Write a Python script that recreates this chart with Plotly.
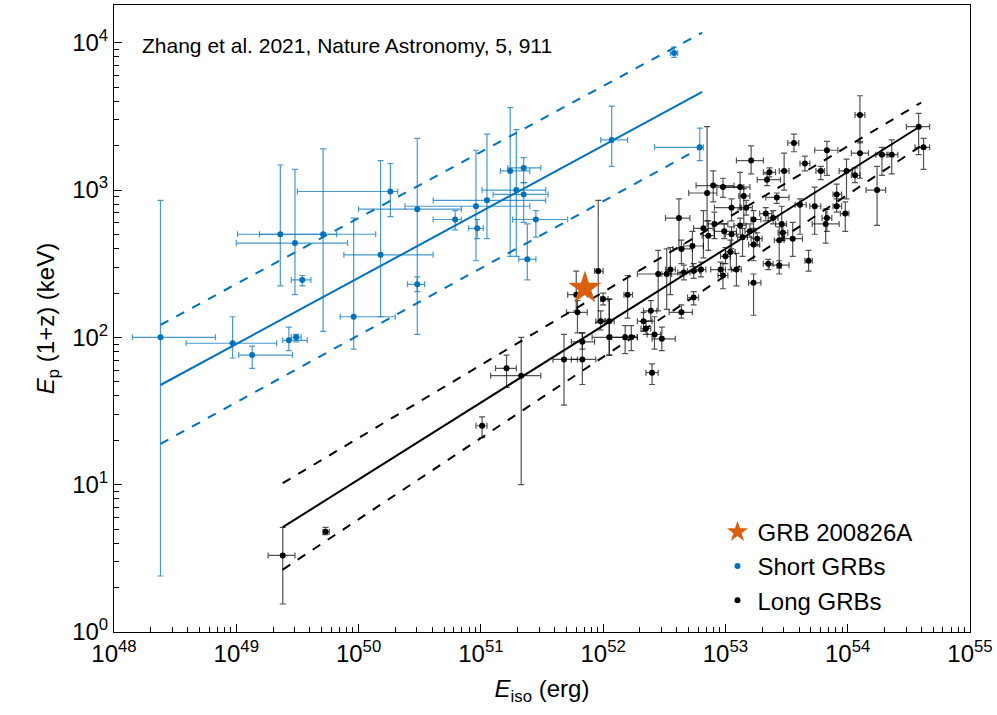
import numpy as np
import plotly.graph_objects as go

# ---------------- data (log10 values) ----------------
# Short GRBs: log10 Eiso (erg), log10 Ep(1+z) (keV), and error-bar bounds
short_logE    = [48.38, 48.97, 49.13, 49.43, 49.49, 49.96, 49.36, 49.48, 49.71, 49.54,
                 50.18, 50.26, 50.48, 50.48, 50.79, 50.96, 50.97, 51.05, 51.24, 51.29,
                 51.35, 51.35, 51.45, 51.38, 52.07, 52.58, 52.79]
short_logEp   = [2.00, 1.96, 1.88, 1.98, 2.00, 2.14, 2.70, 2.64, 2.70, 2.39,
                 2.56, 2.99, 2.87, 2.36, 2.80, 2.89, 2.74, 2.93, 3.13, 3.00,
                 3.15, 2.97, 2.80, 2.53, 3.34, 3.93, 3.29]
short_logE_lo = [48.15, 48.59, 49.02, 49.38, 49.45, 49.85, 49.01, 49.00, 49.19, 49.45,
                 49.88, 49.50, 50.00, 50.40, 50.61, 50.38, 50.90, 50.61, 51.16, 51.01,
                 51.22, 51.10, 51.26, 51.31, 51.98, 52.55, 52.42]
short_logE_hi = [48.83, 49.33, 49.46, 49.58, 49.53, 50.30, 49.82, 49.91, 50.14, 49.61,
                 50.61, 50.32, 50.84, 50.54, 50.84, 51.40, 51.02, 51.53, 51.40, 51.53,
                 51.49, 51.55, 51.71, 51.45, 52.20, 52.61, 52.82]
short_logEp_lo = [0.38, 1.86, 1.79, 1.91, 1.97, 1.92, 2.35, 2.29, 2.04, 2.35,
                  2.14, 2.82, 2.02, 2.31, 2.73, 2.52, 2.67, 2.67, 2.55, 2.55,
                  3.05, 2.78, 2.68, 2.39, 3.16, 3.90, 3.20]
short_logEp_hi = [2.93, 2.14, 1.94, 2.07, 2.02, 2.81, 3.17, 3.14, 3.28, 2.42,
                  3.20, 3.18, 3.35, 2.41, 2.86, 3.27, 2.80, 3.38, 3.56, 3.41,
                  3.22, 3.05, 2.86, 2.77, 3.57, 3.97, 3.42]

# Long GRBs
long_logE = [49.38, 49.73, 51.01, 51.21, 51.33, 51.68, 51.83, 51.83, 51.79, 51.78,
             51.96, 52.00, 51.98, 52.05, 52.20, 52.05, 52.18, 52.23, 52.42, 52.48,
             52.33, 52.39, 52.35, 52.40, 52.45, 52.52, 52.55, 52.64, 52.64, 52.73,
             52.66, 52.74, 52.80, 52.74, 53.56, 53.65, 53.21, 53.36, 53.34, 53.48,
             52.90, 52.85, 52.98, 53.12, 53.15, 52.62, 53.05, 53.17, 53.42, 52.91,
             52.99, 53.05, 53.12, 52.82, 52.86, 53.14, 53.20, 53.23, 53.26, 53.23,
             53.33, 53.39, 53.46, 53.47, 53.44, 53.55, 53.61, 53.35, 53.44, 53.23,
             53.00, 53.04, 52.96, 52.98, 53.09, 54.10, 53.83, 53.78, 54.10, 53.99,
             54.06, 54.28, 54.36, 54.58, 54.62, 54.24, 53.91, 53.91, 53.73, 53.83,
             53.82, 53.98, 53.68]
long_logEp = [0.52, 0.68, 1.40, 1.79, 1.74, 1.85, 1.85, 1.97, 2.17, 2.29,
              2.45, 2.26, 2.11, 2.11, 2.29, 2.00, 2.00, 2.00, 2.02, 1.99,
              2.11, 2.18, 2.06, 1.76, 2.43, 2.43, 2.46, 2.17, 2.60, 2.62,
              2.44, 2.45, 2.46, 2.27, 3.32, 3.18, 3.20, 3.12, 3.07, 3.13,
              3.03, 2.98, 3.02, 3.02, 2.96, 2.81, 2.88, 2.88, 2.95, 2.77,
              2.72, 2.70, 2.76, 2.74, 2.69, 2.68, 2.72, 2.80, 2.67, 2.63,
              2.84, 2.81, 2.77, 2.71, 2.66, 2.67, 2.90, 2.50, 2.49, 2.37,
              2.55, 2.58, 2.46, 2.42, 2.46, 3.51, 3.27, 3.13, 3.25, 3.13,
              3.10, 3.24, 3.24, 3.43, 3.29, 3.00, 2.97, 2.89, 2.89, 2.81,
              2.77, 2.84, 2.52]
long_logE_lo = [49.26, 49.71, 50.96, 51.12, 51.08, 51.59, 51.74, 51.74, 51.70, 51.71,
                51.93, 51.98, 51.94, 52.01, 52.17, 51.91, 52.07, 52.19, 52.36, 52.40,
                52.28, 52.33, 52.31, 52.35, 52.28, 52.48, 52.51, 52.54, 52.57, 52.66,
                52.61, 52.69, 52.76, 52.69, 53.51, 53.61, 53.09, 53.31, 53.26, 53.44,
                52.76, 52.70, 52.93, 52.98, 53.11, 52.51, 52.91, 53.12, 53.33, 52.85,
                52.91, 53.00, 53.07, 52.74, 52.81, 53.10, 53.16, 53.21, 53.21, 53.19,
                53.28, 53.35, 53.41, 53.43, 53.40, 53.47, 53.57, 53.31, 53.36, 53.19,
                52.96, 53.00, 52.88, 52.94, 53.05, 54.06, 53.73, 53.74, 54.03, 53.93,
                54.03, 54.23, 54.32, 54.48, 54.55, 54.15, 53.88, 53.88, 53.69, 53.79,
                53.71, 53.94, 53.65]
long_logE_hi = [49.48, 49.76, 51.05, 51.29, 51.49, 51.79, 51.94, 51.93, 51.87, 51.87,
                52.00, 52.04, 52.02, 52.09, 52.24, 52.17, 52.28, 52.28, 52.47, 52.59,
                52.40, 52.44, 52.39, 52.45, 52.63, 52.56, 52.59, 52.73, 52.73, 52.82,
                52.71, 52.79, 52.84, 52.78, 53.60, 53.69, 53.31, 53.41, 53.45, 53.52,
                53.07, 52.93, 53.15, 53.20, 53.20, 52.71, 53.13, 53.22, 53.52, 53.02,
                53.09, 53.09, 53.17, 52.90, 52.91, 53.18, 53.25, 53.29, 53.30, 53.28,
                53.38, 53.43, 53.50, 53.51, 53.48, 53.63, 53.66, 53.39, 53.52, 53.29,
                53.04, 53.08, 53.00, 53.02, 53.13, 54.14, 53.92, 53.81, 54.17, 54.04,
                54.10, 54.33, 54.41, 54.67, 54.67, 54.31, 53.95, 53.95, 53.78, 53.87,
                53.93, 54.01, 53.71]
long_logEp_lo = [0.19, 0.66, 1.32, 1.66, 1.00, 1.54, 1.68, 1.92, 2.03, 2.18,
                 2.10, 2.22, 2.05, 1.88, 2.13, 1.88, 1.89, 1.91, 1.92, 1.91,
                 2.04, 2.11, 2.02, 1.68, 2.18, 2.19, 2.29, 2.13, 2.50, 2.48,
                 2.39, 2.40, 2.41, 2.22, 3.26, 3.13, 3.11, 3.09, 3.03, 3.00,
                 2.92, 2.79, 2.95, 2.87, 2.77, 2.61, 2.79, 2.83, 2.91, 2.67,
                 2.67, 2.60, 2.70, 2.54, 2.59, 2.55, 2.68, 2.73, 2.62, 2.52,
                 2.79, 2.77, 2.66, 2.66, 2.43, 2.55, 2.70, 2.46, 2.47, 2.15,
                 2.50, 2.46, 2.42, 2.33, 2.35, 3.32, 3.10, 3.07, 3.08, 2.94,
                 3.05, 3.10, 3.11, 3.24, 3.14, 2.76, 2.90, 2.85, 2.70, 2.72,
                 2.64, 2.72, 2.45]
long_logEp_hi = [0.71, 0.71, 1.46, 1.88, 2.00, 2.02, 2.03, 2.03, 2.25, 2.45,
                 2.93, 2.30, 2.18, 2.26, 2.42, 2.26, 2.08, 2.08, 2.14, 2.07,
                 2.17, 2.25, 2.11, 1.82, 2.59, 2.60, 2.61, 2.22, 2.66, 2.72,
                 2.49, 2.50, 2.51, 2.31, 3.38, 3.23, 3.30, 3.15, 3.11, 3.25,
                 3.13, 3.43, 3.08, 3.12, 3.01, 2.94, 2.94, 2.93, 2.98, 2.85,
                 2.77, 2.75, 2.81, 2.86, 2.79, 2.74, 2.77, 2.86, 2.71, 2.74,
                 2.88, 2.86, 2.89, 2.76, 2.75, 2.78, 2.94, 2.53, 2.52, 2.43,
                 2.61, 2.66, 2.51, 2.50, 2.57, 3.64, 3.33, 3.16, 3.33, 3.21,
                 3.15, 3.29, 3.34, 3.52, 3.35, 3.16, 3.04, 2.94, 3.02, 2.87,
                 2.87, 2.92, 2.59]

# GRB 200826A
grb_E = [7.1e51]
grb_Ep = [216.0]

# Best-fit relations: log Ep = norm + slope * (log Eiso - 52); [solid, upper, lower]
short_fit_norm = [3.302, 3.706, 2.924]
short_fit_slope = [0.449, 0.448, 0.455]
short_fit_span = [48.38, 52.81]
long_fit_norm = [2.079, 2.307, 1.867]
long_fit_slope = [0.522, 0.495, 0.551]
long_fit_span = [49.38, 54.60]

x_tick_exp = [48, 49, 50, 51, 52, 53, 54, 55]
y_tick_exp = [0, 1, 2, 3, 4]

BLUE = "#0072BD"
BLUE_ERR = "rgba(0,114,189,0.72)"
BLACK = "#000000"
BLACK_ERR = "rgba(0,0,0,0.68)"
ORANGE = "#D95F0E"
FONT = "Liberation Sans, Arial, sans-serif"


def errs(logv, lo, hi):
    v = 10 ** np.array(logv)
    return v, 10 ** np.array(hi) - v, v - 10 ** np.array(lo)


def minor_vals(exps):
    return [k * 10.0 ** e for e in exps for k in range(2, 10)]


fig = go.Figure()

# Short GRBs
sx, sxp, sxm = errs(short_logE, short_logE_lo, short_logE_hi)
sy, syp, sym = errs(short_logEp, short_logEp_lo, short_logEp_hi)
fig.add_trace(go.Scatter(
    x=sx, y=sy, mode="markers", name="Short GRBs", legendrank=2,
    marker=dict(color=BLUE, size=6),
    error_x=dict(type="data", symmetric=False, array=sxp, arrayminus=sxm,
                 color=BLUE_ERR, thickness=1.2, width=3),
    error_y=dict(type="data", symmetric=False, array=syp, arrayminus=sym,
                 color=BLUE_ERR, thickness=1.2, width=3),
))

# Long GRBs
lx, lxp, lxm = errs(long_logE, long_logE_lo, long_logE_hi)
ly, lyp, lym = errs(long_logEp, long_logEp_lo, long_logEp_hi)
fig.add_trace(go.Scatter(
    x=lx, y=ly, mode="markers", name="Long GRBs", legendrank=3,
    marker=dict(color=BLACK, size=6),
    error_x=dict(type="data", symmetric=False, array=lxp, arrayminus=lxm,
                 color=BLACK_ERR, thickness=1.2, width=3),
    error_y=dict(type="data", symmetric=False, array=lyp, arrayminus=lym,
                 color=BLACK_ERR, thickness=1.2, width=3),
))

# Fit lines
def add_fit(norms, slopes, span, color):
    le = np.linspace(span[0], span[1], 50)
    for i, (n, s) in enumerate(zip(norms, slopes)):
        fig.add_trace(go.Scatter(
            x=10 ** le, y=10 ** (n + s * (le - 52)), mode="lines",
            line=dict(color=color, width=2, dash="solid" if i == 0 else "dash"),
            showlegend=False, hoverinfo="skip"))

add_fit(short_fit_norm, short_fit_slope, short_fit_span, BLUE)
add_fit(long_fit_norm, long_fit_slope, long_fit_span, BLACK)

# GRB 200826A
fig.add_trace(go.Scatter(
    x=grb_E, y=grb_Ep, mode="markers", name="GRB 200826A", legendrank=1,
    marker=dict(symbol="star", color=ORANGE, size=25, line=dict(width=0)),
))

axis_common = dict(
    type="log", showgrid=False, zeroline=False, showline=True, linecolor="black",
    linewidth=1, mirror=True, ticks="inside", ticklen=8, tickcolor="black",
    tickfont=dict(family=FONT, size=24, color="black"),
)

fig.update_xaxes(
    **axis_common, range=[48, 55],
    tickvals=[10.0 ** e for e in x_tick_exp],
    ticktext=[f"10<sup>{e}</sup>" for e in x_tick_exp],
    minor=dict(ticks="inside", ticklen=5, tickcolor="black", showgrid=False,
               tickvals=minor_vals(x_tick_exp[:-1])),
    title=dict(text="<i>E</i><sub>iso</sub> (erg)",
               font=dict(family=FONT, size=24, color="black"), standoff=14),
)
fig.update_yaxes(
    **axis_common, range=[0, 4.256],
    tickvals=[10.0 ** e for e in y_tick_exp],
    ticktext=[f"10<sup>{e}</sup>" for e in y_tick_exp],
    minor=dict(ticks="inside", ticklen=5, tickcolor="black", showgrid=False,
               tickvals=minor_vals(y_tick_exp)),
    title=dict(text="<i>E</i><sub>p</sub> (1+z) (keV)",
               font=dict(family=FONT, size=24, color="black"), standoff=10),
)

fig.add_annotation(
    text="Zhang et al. 2021, Nature Astronomy, 5, 911", xref="paper", yref="paper",
    x=0.03, y=0.935, xanchor="left", yanchor="middle", showarrow=False,
    font=dict(family=FONT, size=21, color="black"),
)

fig.update_layout(
    width=997, height=715,
    margin=dict(l=114, r=23, t=4, b=83),
    paper_bgcolor="white", plot_bgcolor="white",
    showlegend=True,
    legend=dict(x=0.705, y=0.195, xanchor="left", yanchor="top",
                bgcolor="rgba(0,0,0,0)", font=dict(family=FONT, size=24, color="black"),
                itemwidth=30, tracegroupgap=0),
)

fig.write_html("out.html")
